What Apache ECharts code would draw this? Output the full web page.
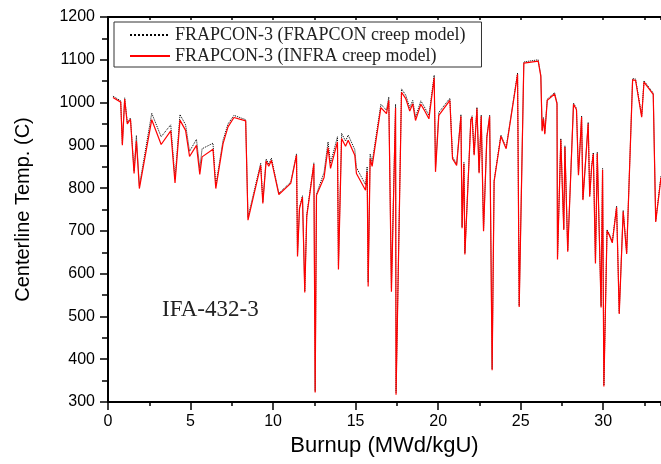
<!DOCTYPE html>
<html><head><meta charset="utf-8">
<script src="https://cdn.jsdelivr.net/npm/echarts@6/dist/echarts.min.js"></script>
<style>html,body{margin:0;padding:0;background:#fff}#c{width:661px;height:464px}</style>
</head><body><div id="c"></div>
<script>
// Burnup (MWd/kgU) sample points
const burnup = [0.30,0.77,0.87,1.01,1.17,1.36,1.58,1.72,1.90,2.65,3.22,3.80,4.06,4.36,4.70,4.94,5.36,5.56,5.70,6.36,6.53,6.97,7.27,7.63,8.34,8.48,9.25,9.38,9.58,9.74,9.90,10.35,11.07,11.42,11.48,11.60,11.78,11.92,12.04,12.47,12.55,12.63,13.09,13.33,13.48,13.90,13.96,14.15,14.39,14.55,14.95,15.05,15.60,15.70,15.76,15.88,16.00,16.53,16.87,17.01,17.17,17.42,17.45,17.78,18.04,18.28,18.46,18.63,18.95,19.15,19.44,19.76,19.84,20.04,20.71,20.87,21.12,21.38,21.45,21.56,21.62,21.98,22.06,22.18,22.35,22.48,22.61,22.75,22.95,23.12,23.27,23.39,23.80,24.12,24.81,24.91,25.19,26.06,26.22,26.30,26.38,26.46,26.61,27.05,27.20,27.23,27.43,27.61,27.68,27.85,28.20,28.38,28.50,28.69,28.77,29.09,29.18,29.30,29.40,29.53,29.64,29.74,29.87,29.96,30.04,30.23,30.37,30.55,30.81,30.97,31.21,31.42,31.78,31.96,32.33,32.47,33.03,33.18,33.50];
// Centerline temperature, INFRA creep model (red solid)
const tempInfra = [1012,1001,900,1008,950,961,834,910,799,960,902,934,812,959,935,874,900,832,873,891,799,904,943,965,957,725,853,764,863,851,865,785,811,877,640,752,779,556,734,856,322,783,825,895,846,908,610,916,898,912,877,834,795,838,570,869,851,988,974,1005,558,988,317,1024,1009,980,997,958,996,983,962,1058,838,970,1005,869,853,968,706,857,645,958,966,877,986,835,968,699,918,968,374,815,921,892,1066,522,1092,1097,1061,933,962,926,1005,1020,997,633,913,702,896,651,996,983,830,966,772,951,780,850,880,624,881,882,521,843,336,700,690,672,755,506,745,646,1053,1052,966,1048,1019,721,825];
// Centerline temperature, FRAPCON creep model (black dotted)
const tempFrapcon = [1015,1004,903,1011,953,964,840,923,805,975,920,948,822,972,948,886,914,846,892,905,806,912,950,970,960,732,858,768,868,856,870,788,814,880,643,755,782,559,737,859,325,786,837,908,858,920,620,928,910,924,890,848,808,850,580,880,860,996,982,1013,566,996,322,1032,1017,988,1005,966,1004,991,970,1064,846,977,1010,873,857,972,709,860,648,961,969,880,989,838,971,702,921,971,377,818,924,895,1069,525,1095,1100,1064,936,965,929,1008,1023,1000,636,916,705,899,654,999,986,833,969,775,954,783,853,883,627,884,885,524,846,339,703,693,675,758,509,748,649,1056,1055,969,1051,1022,724,828];
const seriesNames = ['FRAPCON-3 (FRAPCON creep model)', 'FRAPCON-3 (INFRA creep model)'];
const xTicks = [0,5,10,15,20,25,30];
const yTicks = [300,400,500,600,700,800,900,1000,1100,1200];

const chart = echarts.init(document.getElementById('c'));
const pairs = ys => burnup.map((x, i) => [x, ys[i]]);
const axisFont = {fontFamily: 'Liberation Sans', fontSize: 16, color: '#000'};
chart.setOption({
  animation: false,
  backgroundColor: '#fff',
  grid: {left: 108, right: 0, top: 17, bottom: 62, containLabel: false},
  legend: {
    orient: 'vertical', left: 114, top: 22,
    padding: [4, 16, 2, 15], itemGap: 3, itemWidth: 40, itemHeight: 20,
    borderColor: '#333', borderWidth: 1,
    itemStyle: {opacity: 0},
    textStyle: {fontFamily: 'Liberation Serif', fontSize: 18, color: '#222'},
    data: seriesNames
  },
  xAxis: [
    {type: 'value', position: 'bottom', min: xTicks[0], max: 33.5, interval: 5,
     name: 'Burnup (MWd/kgU)', nameLocation: 'middle', nameGap: 33,
     nameTextStyle: {fontFamily: 'Liberation Sans', fontSize: 22, color: '#000'},
     axisLine: {lineStyle: {color: '#000', width: 2}},
     axisTick: {inside: false, length: 8, lineStyle: {color: '#000', width: 1.5}},
     axisLabel: Object.assign({margin: 12, showMaxLabel: false, formatter: v => String(v)}, axisFont),
     splitLine: {show: false}},
    {type: 'value', position: 'bottom', min: 0, max: 33.5, interval: 2.5,
     axisLine: {show: false},
     axisTick: {inside: false, length: 4, lineStyle: {color: '#000', width: 1.5}},
     axisLabel: {show: false}, splitLine: {show: false}},
    {type: 'value', position: 'top', min: 0, max: 33.5, interval: 2.5,
     axisLine: {lineStyle: {color: '#000', width: 2}},
     axisTick: {inside: true, length: 3, lineStyle: {color: '#000', width: 1.5}},
     axisLabel: {show: false}, splitLine: {show: false}}
  ],
  yAxis: [
    {type: 'value', position: 'left', min: yTicks[0], max: yTicks[yTicks.length - 1], interval: 100,
     name: 'Centerline Temp. (C)', nameLocation: 'middle', nameGap: 75, nameRotate: 90,
     nameTextStyle: {fontFamily: 'Liberation Sans', fontSize: 20, color: '#000'},
     axisLine: {lineStyle: {color: '#000', width: 2}},
     axisTick: {inside: false, length: 8, lineStyle: {color: '#000', width: 1.5}},
     minorTick: {show: true, splitNumber: 2, length: 6, lineStyle: {color: '#000', width: 1.5}},
     axisLabel: Object.assign({margin: 13, formatter: v => String(v)}, axisFont),
     splitLine: {show: false}, minorSplitLine: {show: false}}
  ],
  graphic: [
    {type: 'text', left: 162, top: 298, z: 10,
     style: {text: 'IFA-432-3', fontFamily: 'Liberation Serif', fontSize: 23, fill: '#222'}}
  ],
  series: [
    {name: seriesNames[0], type: 'line', xAxisIndex: 0, yAxisIndex: 0, symbol: 'none',
     data: pairs(tempFrapcon), lineStyle: {color: '#000', width: 1, type: 'dotted'},
     itemStyle: {color: '#000'}},
    {name: seriesNames[1], type: 'line', xAxisIndex: 0, yAxisIndex: 0, symbol: 'none',
     data: pairs(tempInfra), lineStyle: {color: '#ff0000', width: 1.2},
     itemStyle: {color: '#ff0000'}}
  ]
});
</script></body></html>
